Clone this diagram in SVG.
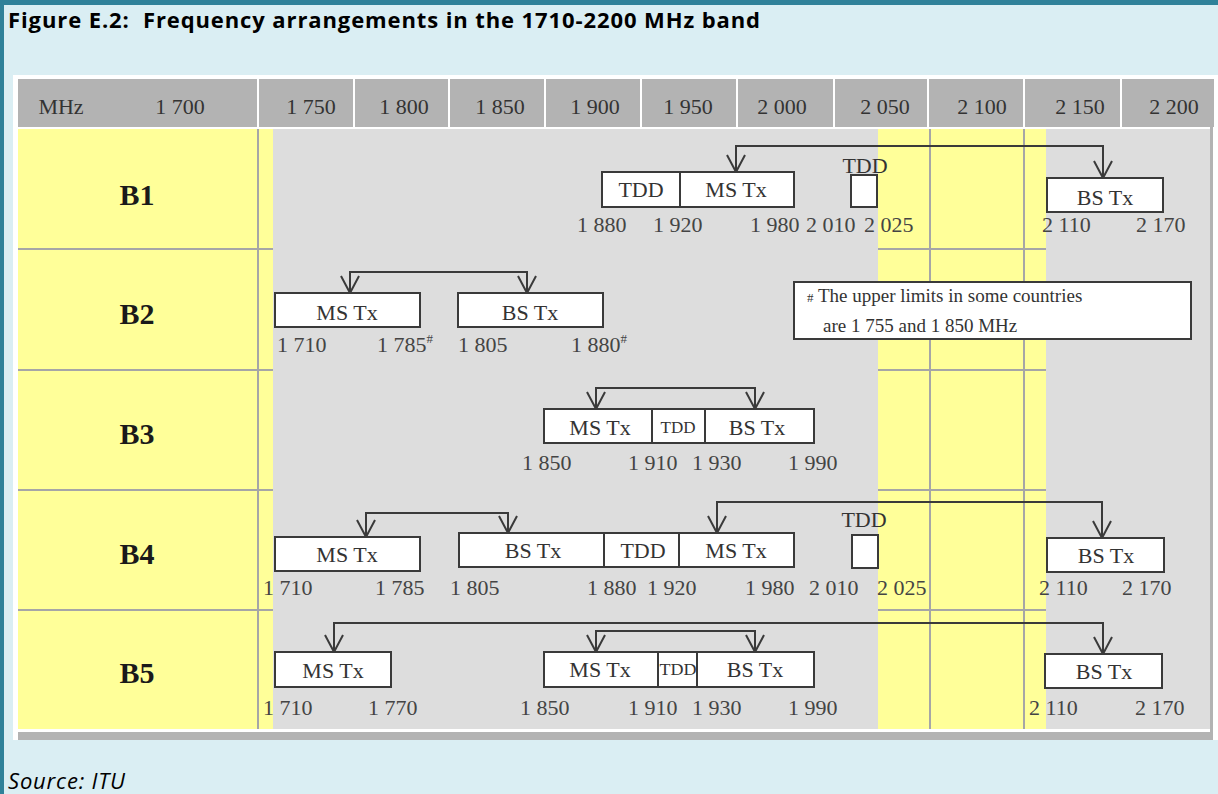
<svg xmlns="http://www.w3.org/2000/svg" width="1218" height="794" viewBox="0 0 1218 794">
<style>
.hdr{font-family:"Liberation Serif",serif;font-size:22px;fill:#333;text-anchor:middle}
.num{font-family:"Liberation Serif",serif;font-size:22px;fill:#444}
.lbl{font-family:"Liberation Serif",serif;font-size:22px;fill:#333;text-anchor:middle}
.sm{font-family:"Liberation Serif",serif;font-size:17px;fill:#333;text-anchor:middle}
.row{font-family:"Liberation Serif",serif;font-weight:bold;font-size:30px;fill:#1a1a1a;text-anchor:middle}
.note{font-family:"Liberation Serif",serif;font-size:19px;fill:#333}
.box{fill:#fff;stroke:#3a3a3a;stroke-width:2}
.conn{fill:none;stroke:#3a3a3a;stroke-width:2;marker-start:url(#vs);marker-end:url(#ve)}
.grid{stroke:#a6a6a6;stroke-width:2}
</style>
<defs>
<marker id="ve" viewBox="-20 -11 22 22" refX="0" refY="0" markerWidth="22" markerHeight="22" markerUnits="userSpaceOnUse" orient="auto"><path d="M-17,-9 L0,0 L-17,9" fill="none" stroke="#3a3a3a" stroke-width="2"/></marker>
<marker id="vs" viewBox="-20 -11 22 22" refX="0" refY="0" markerWidth="22" markerHeight="22" markerUnits="userSpaceOnUse" orient="auto-start-reverse"><path d="M-17,-9 L0,0 L-17,9" fill="none" stroke="#3a3a3a" stroke-width="2"/></marker>
</defs>
<g id="frame">
<rect x="0" y="0" width="1218" height="794" fill="#2f8199"/>
<rect x="4" y="5" width="1214" height="789" fill="#daeef3"/>
<text x="8" y="28" xml:space="preserve" font-family="'Open Sans',sans-serif" font-weight="bold" font-size="22" fill="#000" textLength="752" lengthAdjust="spacing">Figure E.2:  Frequency arrangements in the 1710-2200 MHz band</text>
<text x="8" y="789" font-family="'Open Sans',sans-serif" font-style="italic" font-size="22" fill="#000" textLength="117" lengthAdjust="spacing">Source: ITU</text>
</g>
<g id="table">
<rect x="13" y="75" width="1205" height="665" fill="#fff"/>
<rect x="18" y="79" width="1196" height="48" fill="#b3b3b3"/>
<g stroke="#fff" stroke-width="2">
<line x1="258" y1="79" x2="258" y2="127"/><line x1="354" y1="79" x2="354" y2="127"/><line x1="449" y1="79" x2="449" y2="127"/><line x1="545" y1="79" x2="545" y2="127"/><line x1="641" y1="79" x2="641" y2="127"/><line x1="737" y1="79" x2="737" y2="127"/><line x1="834" y1="79" x2="834" y2="127"/><line x1="928" y1="79" x2="928" y2="127"/><line x1="1024" y1="79" x2="1024" y2="127"/><line x1="1121" y1="79" x2="1121" y2="127"/>
</g>
<text class="hdr" x="61" y="114">MHz</text>
<text class="hdr" x="180" y="114">1 700</text>
<text class="hdr" x="311" y="114">1 750</text>
<text class="hdr" x="404" y="114">1 800</text>
<text class="hdr" x="500" y="114">1 850</text>
<text class="hdr" x="595" y="114">1 900</text>
<text class="hdr" x="688" y="114">1 950</text>
<text class="hdr" x="782" y="114">2 000</text>
<text class="hdr" x="885" y="114">2 050</text>
<text class="hdr" x="982" y="114">2 100</text>
<text class="hdr" x="1080" y="114">2 150</text>
<text class="hdr" x="1174" y="114">2 200</text>
<rect x="18" y="129" width="255" height="600" fill="#ffff99"/>
<rect x="273" y="129" width="605" height="600" fill="#dddddd"/>
<rect x="878" y="129" width="168" height="600" fill="#ffff99"/>
<rect x="1046" y="129" width="164" height="600" fill="#dddddd"/>
<line x1="1211.5" y1="127" x2="1211.5" y2="732" stroke="#b3b3b3" stroke-width="3"/>
<rect x="18" y="732" width="1195" height="8" fill="#b3b3b3"/>
<g class="grid">
<line x1="258" y1="129" x2="258" y2="729"/><line x1="930" y1="129" x2="930" y2="729"/><line x1="1024" y1="129" x2="1024" y2="729"/>
<line x1="18" y1="249" x2="273" y2="249"/><line x1="18" y1="370" x2="273" y2="370"/><line x1="18" y1="490" x2="273" y2="490"/><line x1="18" y1="610" x2="273" y2="610"/>
<line x1="878" y1="249" x2="1046" y2="249"/><line x1="878" y1="370" x2="1046" y2="370"/><line x1="878" y1="490" x2="1046" y2="490"/><line x1="878" y1="610" x2="1046" y2="610"/>
</g>
</g>
<g id="row-B1"><text class="row" x="137" y="205">B1</text></g>
<g id="row-B2"><text class="row" x="137" y="324">B2</text></g>
<g id="row-B3"><text class="row" x="137" y="444">B3</text></g>
<g id="row-B4"><text class="row" x="137" y="564">B4</text></g>
<g id="row-B5"><text class="row" x="137" y="683">B5</text></g>
<g id="connectors">
<path class="conn" d="M736,172 V146 H1103 V178"/>
<path class="conn" d="M350,293 V272 H527 V293"/>
<path class="conn" d="M596,409 V388 H755 V409"/>
<path class="conn" d="M366,537 V513 H508 V533"/>
<path class="conn" d="M717,533 V502 H1102 V538"/>
<path class="conn" d="M334,652 V623 H1103 V654"/>
<path class="conn" d="M596,652 V631 H755 V652"/>
</g>
<g id="B1-tdd"><rect class="box" x="602" y="172" width="78" height="35"/><text class="lbl" x="641" y="197">TDD</text></g>
<g id="B1-ms"><rect class="box" x="680" y="172" width="114" height="35"/><text class="lbl" x="736" y="197">MS Tx</text></g>
<g id="B1-tdd2"><rect class="box" x="851" y="175" width="26" height="32"/><text class="lbl" x="865" y="173">TDD</text></g>
<g id="B1-bs"><rect class="box" x="1047" y="178" width="116" height="34"/><text class="lbl" x="1105" y="205">BS Tx</text></g>
<g id="B1-nums">
<text class="num" x="577" y="232">1 880</text><text class="num" x="653" y="232">1 920</text><text class="num" x="750" y="232">1 980</text><text class="num" x="806" y="232">2 010</text><text class="num" x="864" y="232">2 025</text><text class="num" x="1042" y="232">2 110</text><text class="num" x="1136" y="232">2 170</text>
</g>
<g id="B2-ms"><rect class="box" x="275" y="293" width="145" height="34"/><text class="lbl" x="347" y="320">MS Tx</text></g>
<g id="B2-bs"><rect class="box" x="458" y="293" width="145" height="34"/><text class="lbl" x="530" y="320">BS Tx</text></g>
<g id="B2-nums">
<text class="num" x="277" y="352">1 710</text><text class="num" x="377" y="352">1 785<tspan font-size="13" dy="-9">#</tspan></text><text class="num" x="458" y="352">1 805</text><text class="num" x="571" y="352">1 880<tspan font-size="13" dy="-9">#</tspan></text>
</g>
<g id="note"><rect class="box" x="794" y="282" width="397" height="57"/><text class="note" x="807" y="302"><tspan font-size="13">#</tspan> The upper limits in some countries</text><text class="note" x="823" y="332">are 1 755 and 1 850 MHz</text></g>
<g id="B3-ms"><rect class="box" x="544" y="409" width="108" height="34"/><text class="lbl" x="600" y="435">MS Tx</text></g>
<g id="B3-tdd"><rect class="box" x="652" y="409" width="53" height="34"/><text class="sm" x="678" y="433">TDD</text></g>
<g id="B3-bs"><rect class="box" x="705" y="409" width="109" height="34"/><text class="lbl" x="757" y="435">BS Tx</text></g>
<g id="B3-nums">
<text class="num" x="522" y="470">1 850</text><text class="num" x="628" y="470">1 910</text><text class="num" x="692" y="470">1 930</text><text class="num" x="788" y="470">1 990</text>
</g>
<g id="B4-ms1"><rect class="box" x="275" y="537" width="145" height="34"/><text class="lbl" x="347" y="562">MS Tx</text></g>
<g id="B4-bs1"><rect class="box" x="459" y="533" width="145" height="34"/><text class="lbl" x="533" y="558">BS Tx</text></g>
<g id="B4-tdd"><rect class="box" x="604" y="533" width="75" height="34"/><text class="lbl" x="643" y="558">TDD</text></g>
<g id="B4-ms2"><rect class="box" x="679" y="533" width="115" height="34"/><text class="lbl" x="736" y="558">MS Tx</text></g>
<g id="B4-tdd2"><rect class="box" x="852" y="535" width="26" height="33"/><text class="lbl" x="864" y="527">TDD</text></g>
<g id="B4-bs2"><rect class="box" x="1047" y="538" width="117" height="34"/><text class="lbl" x="1106" y="563">BS Tx</text></g>
<g id="B4-nums">
<text class="num" x="263" y="595">1 710</text><text class="num" x="375" y="595">1 785</text><text class="num" x="450" y="595">1 805</text><text class="num" x="587" y="595">1 880</text><text class="num" x="647" y="595">1 920</text><text class="num" x="745" y="595">1 980</text><text class="num" x="809" y="595">2 010</text><text class="num" x="877" y="595">2 025</text><text class="num" x="1039" y="595">2 110</text><text class="num" x="1122" y="595">2 170</text>
</g>
<g id="B5-ms1"><rect class="box" x="275" y="652" width="116" height="35"/><text class="lbl" x="333" y="678">MS Tx</text></g>
<g id="B5-ms2"><rect class="box" x="544" y="652" width="114" height="35"/><text class="lbl" x="600" y="677">MS Tx</text></g>
<g id="B5-tdd"><rect class="box" x="658" y="652" width="39" height="35"/><text class="sm" x="678" y="675" textLength="37" lengthAdjust="spacingAndGlyphs">TDD</text></g>
<g id="B5-bs1"><rect class="box" x="697" y="652" width="117" height="35"/><text class="lbl" x="755" y="677">BS Tx</text></g>
<g id="B5-bs2"><rect class="box" x="1045" y="654" width="117" height="34"/><text class="lbl" x="1104" y="679">BS Tx</text></g>
<g id="B5-nums">
<text class="num" x="263" y="715">1 710</text><text class="num" x="368" y="715">1 770</text><text class="num" x="520" y="715">1 850</text><text class="num" x="628" y="715">1 910</text><text class="num" x="692" y="715">1 930</text><text class="num" x="788" y="715">1 990</text><text class="num" x="1029" y="715">2 110</text><text class="num" x="1135" y="715">2 170</text>
</g>
</svg>
